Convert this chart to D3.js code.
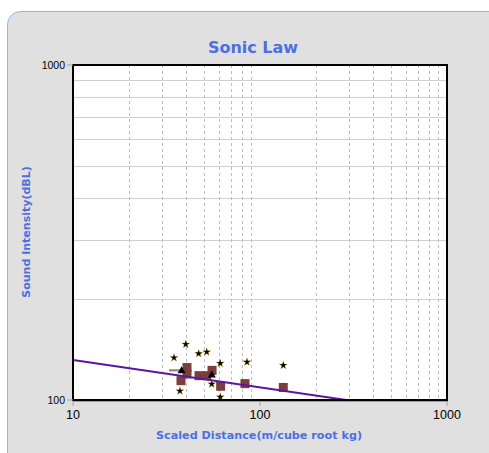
<!DOCTYPE html>
<html><head><meta charset="utf-8">
<script src="https://cdn.jsdelivr.net/npm/d3@7/dist/d3.min.js"></script>
<style>body{margin:0;background:#fff}svg{display:block}</style>
</head><body>
<svg id="c" width="489" height="453"></svg>
<script>
const title = "Sonic Law";
const xLabel = "Scaled Distance(m/cube root kg)";
const yLabel = "Sound Intensity(dBL)";
const xTicks = [10, 100, 1000];
const yTicks = [100, 1000];
// measured points (stars)
const starX = [34.7, 40.1, 47.0, 51.9, 61.3, 55.2, 37.3, 61.3, 85.2, 133.2];
const starY = [133.7, 146.6, 137.5, 139.1, 128.7, 111.6, 106.4, 102.1, 129.8, 126.9];
// squares
const sqX = [40.7, 37.8, 40.7, 47.2, 51.9, 55.4, 61.6, 83.1, 133.2];
const sqY = [125.0, 114.2, 119.6, 118.2, 118.2, 122.6, 109.9, 111.9, 109.0];
// triangles
const triX = [38.1, 55.2];
const triY = [122.1, 118.7];
// short gray segment
const segX = [32.6, 37.8];
const segY = [122.6, 122.6];
// fit line: I = a * D^b
const fitA = 158.7, fitB = -0.0815;
const fitX = [10, 1000];

const svg = d3.select("#c");
// panel
svg.append("rect").attr("x",7.5).attr("y",11.5).attr("width",495).attr("height",460)
  .attr("rx",13).attr("fill","#e0e0e0").attr("stroke","#8db8e4").attr("stroke-width",1);

const L=73,R=447,T=65,B=400;
const x = d3.scaleLog().domain([10,1000]).range([L,R]);
const y = d3.scaleLog().domain([100,1000]).range([B,T]);

svg.append("rect").attr("x",L).attr("y",T).attr("width",R-L).attr("height",B-T).attr("fill","#fff");

const minorX = [];
[10,100].forEach(d=>{for(let k=2;k<=9;k++) minorX.push(d*k);});
const minorY = [];
for(let k=2;k<=9;k++) minorY.push(100*k);

svg.append("g").selectAll("line").data(minorY).join("line")
  .attr("x1",L).attr("x2",R).attr("y1",d=>Math.round(y(d))+0.5).attr("y2",d=>Math.round(y(d))+0.5)
  .attr("stroke","#cfcfcf").attr("stroke-width",1);
svg.append("g").selectAll("line").data(minorX).join("line")
  .attr("y1",T).attr("y2",B).attr("x1",d=>Math.round(x(d))+0.5).attr("x2",d=>Math.round(x(d))+0.5)
  .attr("stroke","#bdbdbd").attr("stroke-width",1).attr("stroke-dasharray","3,3");

const clip = svg.append("clipPath").attr("id","pc").append("rect")
  .attr("x",L).attr("y",T).attr("width",R-L).attr("height",B-T);
const g = svg.append("g").attr("clip-path","url(#pc)");

// squares
g.selectAll("rect.sq").data(sqX).join("rect").attr("class","sq")
  .attr("x",(d,i)=>x(d)-4.5).attr("y",(d,i)=>y(sqY[i])-4.5).attr("width",9).attr("height",9)
  .attr("fill","#7c3d3d");
// gray segment
g.append("path").datum(segX.map((d,i)=>[d,segY[i]]))
  .attr("d",d3.line().x(d=>x(d[0])).y(d=>y(d[1])))
  .attr("stroke","#808080").attr("stroke-width",2).attr("fill","none");
// fit line
g.append("path").datum(fitX.map(d=>[d,fitA*Math.pow(d,fitB)]))
  .attr("d",d3.line().x(d=>x(d[0])).y(d=>y(d[1])))
  .attr("stroke","#5a16a0").attr("stroke-width",2).attr("fill","none");
// triangles
g.selectAll("path.tri").data(triX).join("path").attr("class","tri")
  .attr("d",d3.symbol(d3.symbolTriangle,28))
  .attr("transform",(d,i)=>`translate(${x(d)},${y(triY[i])})`).attr("fill","#000");
// stars
svg.append("g").selectAll("path.st").data(starX).join("path").attr("class","st")
  .attr("d",d3.symbol(d3.symbolStar,20))
  .attr("transform",(d,i)=>`translate(${x(d)},${y(starY[i])})`).attr("fill","#000")
  .attr("stroke","#c9a200").attr("stroke-width",0.3);

// frame
svg.append("rect").attr("x",L).attr("y",T).attr("width",R-L).attr("height",B-T)
  .attr("fill","none").attr("stroke","#000").attr("stroke-width",2);
svg.append("line").attr("x1",L).attr("x2",R+1).attr("y1",B+1.5).attr("y2",B+1.5).attr("stroke","#a0a0a0").attr("stroke-width",1);

// ticks
svg.append("g").selectAll("line").data(xTicks).join("line")
  .attr("x1",d=>x(d)).attr("x2",d=>x(d)).attr("y1",B+1).attr("y2",B+6).attr("stroke","#a0a0a0");
svg.append("g").selectAll("line").data(yTicks).join("line")
  .attr("x1",L-6).attr("x2",L).attr("y1",d=>y(d)).attr("y2",d=>y(d)).attr("stroke","#a0a0a0");

svg.append("g").selectAll("text").data(xTicks).join("text")
  .attr("x",d=>x(d)).attr("y",B+19).attr("text-anchor","middle")
  .attr("font-family","Liberation Sans, Arial, sans-serif").attr("font-size",12.5).attr("fill","#000")
  .text(d=>d);
svg.append("g").selectAll("text").data(yTicks).join("text")
  .attr("x",L-8).attr("y",d=>y(d)+3.5).attr("text-anchor","end")
  .attr("font-family","Liberation Sans, Arial, sans-serif").attr("font-size",10.5).attr("fill","#000")
  .text(d=>d);

svg.append("text").attr("x",253).attr("y",53).attr("text-anchor","middle")
  .attr("font-family","DejaVu Sans, sans-serif").attr("font-weight","bold").attr("font-size",16)
  .attr("fill","#4d6fe0").text(title);
svg.append("text").attr("x",259).attr("y",439).attr("text-anchor","middle")
  .attr("font-family","DejaVu Sans, sans-serif").attr("font-weight","bold").attr("font-size",11.2)
  .attr("fill","#4d6fe0").text(xLabel);
svg.append("text").attr("transform","translate(29.5,232) rotate(-90)").attr("text-anchor","middle")
  .attr("font-family","DejaVu Sans, sans-serif").attr("font-weight","bold").attr("font-size",11)
  .attr("fill","#4d6fe0").text(yLabel);
</script>
</body></html>
